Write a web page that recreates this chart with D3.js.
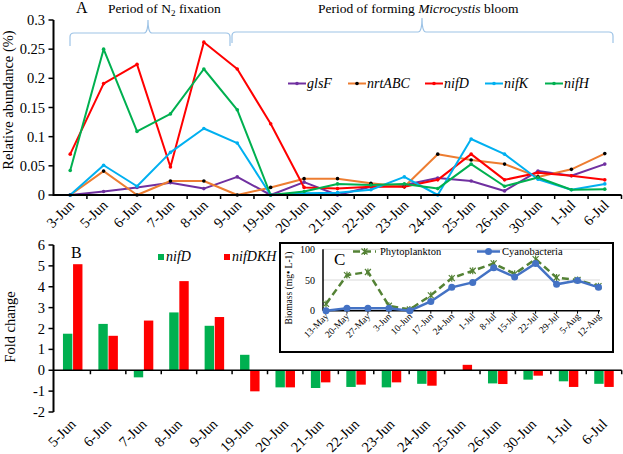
<!DOCTYPE html>
<html><head><meta charset="utf-8">
<script src="https://cdn.jsdelivr.net/npm/d3@7"></script>
</head>
<body style="margin:0;background:#fff">
<svg id="c" width="623" height="454" style="display:block"></svg>
<script>
const catsA = ["3-Jun","5-Jun","6-Jun","7-Jun","8-Jun","9-Jun","19-Jun","20-Jun","21-Jun","22-Jun","23-Jun","24-Jun","25-Jun","26-Jun","30-Jun","1-Jul","6-Jul"];
const glsF   = [0, 0.006, 0.013, 0.021, 0.011, 0.031, 0, 0.022, 0, 0.014, 0.017, 0.029, 0.024, 0.007, 0.041, 0.033, 0.053];
const nrtABC = [0, 0.041, 0, 0.024, 0.024, 0, 0.013, 0.028, 0.028, 0.020, 0.014, 0.070, 0.060, 0.053, 0.031, 0.044, 0.071];
const nifD   = [0.070, 0.191, 0.224, 0.048, 0.262, 0.216, 0.122, 0.013, 0.011, 0.014, 0.014, 0.026, 0.070, 0.026, 0.038, 0.033, 0.026];
const nifK   = [0, 0.051, 0.015, 0.073, 0.114, 0.089, 0, 0.003, 0.004, 0.009, 0.031, 0, 0.096, 0.070, 0.027, 0.009, 0.019];
const nifH   = [0.042, 0.250, 0.109, 0.139, 0.216, 0.146, 0, 0.006, 0.019, 0.017, 0.019, 0.011, 0.053, 0.015, 0.030, 0.009, 0.010];
const yTicksA = [0, 0.05, 0.1, 0.15, 0.2, 0.25, 0.3];

const catsB = ["5-Jun","6-Jun","7-Jun","8-Jun","9-Jun","19-Jun","20-Jun","21-Jun","22-Jun","23-Jun","24-Jun","25-Jun","26-Jun","30-Jun","1-Jul","6-Jul"];
const fcNifD   = [1.75, 2.22, -0.34, 2.77, 2.13, 0.74, -0.82, -0.85, -0.80, -0.82, -0.65, 0, -0.63, -0.45, -0.53, -0.65];
const fcNifDKH = [5.08, 1.65, 2.38, 4.27, 2.55, -1.01, -0.82, -0.58, -0.69, -0.58, -0.74, 0.26, -0.66, -0.26, -0.80, -0.80];
const yTicksB = [-2, -1, 0, 1, 2, 3, 4, 5, 6];

const catsC = ["13-May","20-May","27-May","3-Jun","10-Jun","17-Jun","24-Jun","1-Jul","8-Jul","15-Jul","22-Jul","29-Jul","5-Aug","12-Aug"];
const phyto = [11, 58, 63, 8, 2, 25, 53, 65, 77, 60, 84, 54, 50, 40];
const cyano = [0, 4, 4, 4, 0, 15, 38, 46, 70, 55, 77, 43, 49, 38];
const yTicksC = [0, 50, 100];

const FF = "Liberation Serif";
const svg = d3.select("#c");
function T(sel){ return sel.append("text").attr("font-family",FF).style("font-family","'Liberation Serif', 'Times New Roman', serif"); }

// ---------- Panel A ----------
const xA = d3.scaleBand().domain(catsA).range([53.5, 621.5]);
const yA = d3.scaleLinear().domain([0, 0.3]).range([195, 20]);
const gA = svg.append("g");

const seriesA = [
  {name:"glsF", vals:glsF, color:"#7030A0", mk:"#7030A0"},
  {name:"nrtABC", vals:nrtABC, color:"#ED7D31", mk:"#000"},
  {name:"nifD", vals:nifD, color:"#FF0000", mk:"#FF0000"},
  {name:"nifK", vals:nifK, color:"#00B0F0", mk:"#00B0F0"},
  {name:"nifH", vals:nifH, color:"#00B050", mk:"#00B050"}
];
const cx = c => xA(c) + xA.bandwidth()/2;
const lineA = d3.line().x((d,i)=>cx(catsA[i])).y(d=>yA(d));
seriesA.forEach(s=>{
  gA.append("path").attr("d", lineA(s.vals)).attr("fill","none")
    .attr("stroke", s.color).attr("stroke-width", 2).attr("stroke-linejoin","round");
});
seriesA.forEach(s=>{
  gA.selectAll(null).data(s.vals).enter().append("circle")
    .attr("cx",(d,i)=>cx(catsA[i])).attr("cy",d=>yA(d)).attr("r",1.8).attr("fill",s.mk);
});

// y axis A (scale-driven)
gA.append("line").attr("x1",53.5).attr("x2",53.5).attr("y1",yA(0.3)).attr("y2",yA(0)+1).attr("stroke","#000").attr("stroke-width",2);
yTicksA.forEach(v=>{
  gA.append("line").attr("x1",48.5).attr("x2",53.5).attr("y1",yA(v)).attr("y2",yA(v)).attr("stroke","#000").attr("stroke-width",1.5);
  T(gA).attr("x",45).attr("y",yA(v)+5).attr("text-anchor","end").attr("font-size",14.5).text(String(v));
});
gA.append("line").attr("x1",53).attr("x2",621.5).attr("y1",195).attr("y2",195).attr("stroke","#000").attr("stroke-width",2);
catsA.slice(1).concat(["end"]).forEach(d=>{
  const x = d==="end"? xA.range()[1]: xA(d);
  gA.append("line").attr("x1",x).attr("x2",x).attr("y1",195).attr("y2",199).attr("stroke","#000").attr("stroke-width",1.5);
});
catsA.forEach(d=>{
  T(gA).attr("transform", `translate(${cx(d)+5},206) rotate(-45)`)
    .attr("text-anchor","end").attr("font-size",14.5).text(d);
});

T(gA).attr("transform","translate(13,100) rotate(-90)").attr("text-anchor","middle")
  .attr("font-size",14.5).text("Relative abundance (%)");
T(gA).attr("x",76).attr("y",13).attr("font-size",16).text("A");

const t1 = T(gA).attr("x",108).attr("y",12.5).attr("font-size",13.5);
t1.append("tspan").text("Period of N");
t1.append("tspan").attr("font-size",9).attr("dy",3).text("2");
t1.append("tspan").attr("dy",-3).text(" fixation");
const t2 = T(gA).attr("x",318).attr("y",12.5).attr("font-size",13.5);
t2.append("tspan").text("Period of forming ");
t2.append("tspan").attr("font-style","italic").text("Microcystis");
t2.append("tspan").text(" bloom");

function brace(x1, x2, xm, yb, yend, ytop){
  const r = 4;
  return `M${x1},${yend} V${yb+r} Q${x1},${yb} ${x1+r},${yb} H${xm-r} Q${xm},${yb} ${xm},${ytop} Q${xm},${yb} ${xm+r},${yb} H${x2-r} Q${x2},${yb} ${x2},${yb+r} V${yend}`;
}
gA.append("path").attr("d",brace(70,230,148,33,46,20)).attr("fill","none").attr("stroke","#9DC3E6").attr("stroke-width",1.2);
gA.append("path").attr("d",brace(232,613,422,32,43,18)).attr("fill","none").attr("stroke","#9DC3E6").attr("stroke-width",1.2);

const legX = [288, 348, 425, 485, 545];
seriesA.forEach((s,i)=>{
  const g = gA.append("g").attr("transform",`translate(${legX[i]},83.5)`);
  g.append("line").attr("x1",0).attr("x2",18).attr("stroke",s.color).attr("stroke-width",2);
  g.append("circle").attr("cx",9).attr("r",1.8).attr("fill",s.mk);
  T(g).attr("x",19).attr("y",4.5).attr("font-size",14).attr("font-style","italic").text(s.name);
});

// ---------- Panel B ----------
const xB = d3.scaleBand().domain(catsB).range([55, 621.7]);
const yB = d3.scaleLinear().domain([-2, 6]).range([412, 245]);
const gB = svg.append("g");
const inner = d3.scaleBand().domain(["nifD","nifDKH"]).range([0, 19.5]).paddingInner(0.07);
const off = (xB.bandwidth()-19.5)/2;
gB.selectAll(null).data(fcNifD).enter().append("rect")
  .attr("x",(d,i)=>xB(catsB[i])+off+inner("nifD")).attr("width",inner.bandwidth())
  .attr("y",d=>yB(Math.max(0,d))).attr("height",d=>Math.abs(yB(d)-yB(0))).attr("fill","#00B050");
gB.selectAll(null).data(fcNifDKH).enter().append("rect")
  .attr("x",(d,i)=>xB(catsB[i])+off+inner("nifDKH")).attr("width",inner.bandwidth())
  .attr("y",d=>yB(Math.max(0,d))).attr("height",d=>Math.abs(yB(d)-yB(0))).attr("fill","#FF0000");

gB.append("line").attr("x1",53.5).attr("x2",53.5).attr("y1",yB(6)).attr("y2",yB(-2)).attr("stroke","#000").attr("stroke-width",2);
yTicksB.forEach(v=>{
  gB.append("line").attr("x1",48.5).attr("x2",53.5).attr("y1",yB(v)).attr("y2",yB(v)).attr("stroke","#000").attr("stroke-width",1.5);
  T(gB).attr("x",45).attr("y",yB(v)+5).attr("text-anchor","end").attr("font-size",14.5).text(String(v));
});
gB.append("line").attr("x1",53.5).attr("x2",621.7).attr("y1",yB(0)).attr("y2",yB(0)).attr("stroke","#000").attr("stroke-width",1.5);
catsB.slice(1).concat(["end"]).forEach(d=>{
  const x = d==="end"? xB.range()[1]: xB(d);
  gB.append("line").attr("x1",x).attr("x2",x).attr("y1",yB(0)).attr("y2",yB(0)+4).attr("stroke","#000").attr("stroke-width",1.5);
});
catsB.forEach(d=>{
  T(gB).attr("transform", `translate(${xB(d)+xB.bandwidth()/2+4},425) rotate(-45)`)
    .attr("text-anchor","end").attr("font-size",14.5).text(d);
});
T(gB).attr("transform","translate(15,327) rotate(-90)").attr("text-anchor","middle")
  .attr("font-size",14.5).text("Fold change");
T(gB).attr("x",71).attr("y",258).attr("font-size",16).text("B");
[["nifD","#00B050",158],["nifDKH","#FF0000",224]].forEach(([n,c,x])=>{
  gB.append("rect").attr("x",x).attr("y",254).attr("width",6).attr("height",6).attr("fill",c);
  T(gB).attr("x",x+8).attr("y",261).attr("font-size",14).attr("font-style","italic").text(n);
});

// ---------- Panel C ----------
const gC = svg.append("g");
gC.append("rect").attr("x",280).attr("y",243).attr("width",333).attr("height",109)
  .attr("fill","#fff").attr("stroke","#000").attr("stroke-width",2);
const xC = d3.scalePoint().domain(catsC).range([326, 598.5]);
const yC = d3.scaleLinear().domain([0,100]).range([310.7, 249.3]);
yTicksC.filter(d=>d>0).forEach(v=>{
  gC.append("line").attr("x1",323).attr("x2",600).attr("y1",yC(v)).attr("y2",yC(v)).attr("stroke","#D9D9D9").attr("stroke-width",1);
});
yTicksC.forEach(v=>{
  T(gC).attr("x",315).attr("y",yC(v)+3.5).attr("text-anchor","end").attr("font-size",10).text(String(v));
});
gC.append("line").attr("x1",323).attr("x2",323).attr("y1",yC(100)).attr("y2",yC(0)).attr("stroke","#000").attr("stroke-width",1.5);
gC.append("line").attr("x1",323).attr("x2",600).attr("y1",yC(0)).attr("y2",yC(0)).attr("stroke","#000").attr("stroke-width",1.5);
catsC.forEach(d=>{
  gC.append("line").attr("x1",xC(d)).attr("x2",xC(d)).attr("y1",yC(0)).attr("y2",yC(0)+3).attr("stroke","#000");
  T(gC).attr("transform",`translate(${xC(d)+3},317) rotate(-45)`)
    .attr("text-anchor","end").attr("font-size",9.5).text(d);
});
T(gC).attr("transform","translate(292,288) rotate(-90)").attr("text-anchor","middle")
  .attr("font-size",9.5).text("Biomass (mg\u2022 L-1)");

const lineC = d3.line().x((d,i)=>xC(catsC[i])).y(d=>yC(d));
gC.append("path").attr("d",lineC(phyto)).attr("fill","none").attr("stroke","#548235")
  .attr("stroke-width",2.5).attr("stroke-dasharray","7,4");
const xMark = (x,y)=>`M${x-3},${y-3}L${x+3},${y+3}M${x-3},${y+3}L${x+3},${y-3}M${x},${y-3.5}V${y+3.5}`;
gC.selectAll(null).data(phyto).enter().append("path")
  .attr("d",(d,i)=>xMark(xC(catsC[i]),yC(d))).attr("stroke","#548235").attr("stroke-width",1.2).attr("fill","none");
gC.append("path").attr("d",lineC(cyano)).attr("fill","none").attr("stroke","#4472C4").attr("stroke-width",2.5);
gC.selectAll(null).data(cyano).enter().append("circle")
  .attr("cx",(d,i)=>xC(catsC[i])).attr("cy",d=>yC(d)).attr("r",3.5).attr("fill","#4472C4");

T(gC).attr("x",334).attr("y",265).attr("font-size",17).text("C");
gC.append("line").attr("x1",353).attr("x2",376).attr("y1",251.5).attr("y2",251.5).attr("stroke","#548235").attr("stroke-width",2.5).attr("stroke-dasharray","7,4");
gC.append("path").attr("d",xMark(364.5,251.5)).attr("stroke","#548235").attr("stroke-width",1.2);
T(gC).attr("x",380).attr("y",255).attr("font-size",10.5).text("Phytoplankton");
gC.append("line").attr("x1",477).attr("x2",500).attr("y1",251.5).attr("y2",251.5).attr("stroke","#4472C4").attr("stroke-width",2.5);
gC.append("circle").attr("cx",488.5).attr("cy",251.5).attr("r",3.5).attr("fill","#4472C4");
T(gC).attr("x",502).attr("y",255).attr("font-size",10.5).text("Cyanobacteria");
</script></body></html>
